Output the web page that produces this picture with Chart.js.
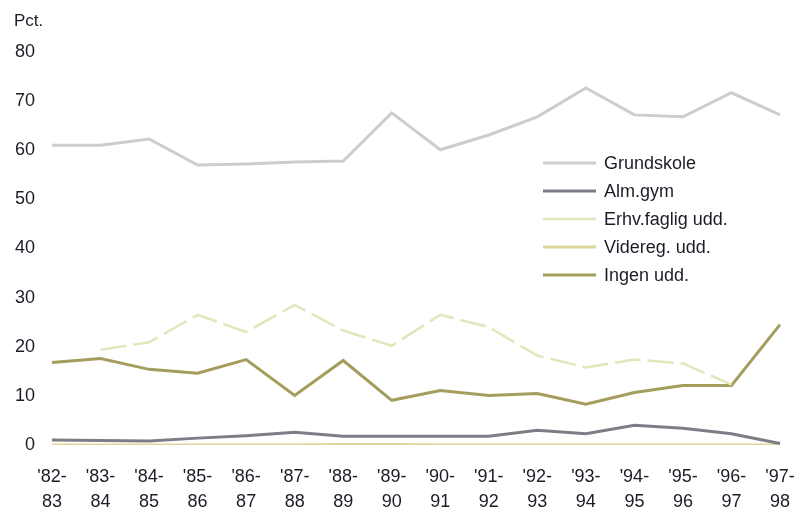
<!DOCTYPE html>
<html lang="da">
  <head>
    <meta charset="UTF-8" />
    <title>Pct.</title>
    <style>
      body {
        margin: 0;
        background: #fff;
      }
      .chart_frame {
        width: 797px;
        height: 511px;
      }
    </style>
  </head>
  <body>
    <div class="chart_frame">
      <canvas id="myChart" width="797" height="511"></canvas>
    </div>
  </body>
  <script src="https://cdn.jsdelivr.net/npm/chart.js"></script>

  <script>
    const years = [
      ["'82-", "83"], ["'83-", "84"], ["'84-", "85"], ["'85-", "86"],
      ["'86-", "87"], ["'87-", "88"], ["'88-", "89"], ["'89-", "90"],
      ["'90-", "91"], ["'91-", "92"], ["'92-", "93"], ["'93-", "94"],
      ["'94-", "95"], ["'95-", "96"], ["'96-", "97"], ["'97-", "98"],
    ];

    const seriesNames = ["Grundskole", "Alm.gym", "Erhv.faglig udd.", "Videreg. udd.", "Ingen udd."];

    const grundskole = [61, 61, 62.3, 57, 57.2, 57.6, 57.8, 67.6, 60.1, 63.1, 66.8, 72.7, 67.2, 66.8, 71.7, 67.2];
    const almGym = [1.0, 0.9, 0.8, 1.4, 1.9, 2.6, 1.8, 1.8, 1.8, 1.8, 3.0, 2.3, 4.0, 3.4, 2.3, 0.3];
    const erhvFaglig = [null, 19.4, 20.9, 26.5, 23, 28.5, 23.3, 20.2, 26.5, 24, 18.2, 15.8, 17.4, 16.6, 12.3, null];
    const videreg = [0, 0, 0, 0, 0, 0, 0.1, 0.1, 0, 0, 0, 0, 0, 0, 0, 0];
    const ingen = [16.8, 17.6, 15.4, 14.6, 17.4, 10.1, 17.2, 9.1, 11.1, 10.1, 10.5, 8.3, 10.7, 12.1, 12.1, 24.5];

    const yTicks = [0, 10, 20, 30, 40, 50, 60, 70, 80];

    const colors = ["#cdcdcd", "#7d7d85", "#e3e6bb", "#ddd59c", "#a49d5e"];
    const widths = [3, 3, 2.5, 3, 3];

    const FONT = "'Liberation Sans', Arial, sans-serif";

    // legend drawn by hand, to the right of the middle
    const legendPlugin = {
      id: "sideLegend",
      afterDraw(chart) {
        const ctx = chart.ctx;
        ctx.save();
        ctx.font = "18px " + FONT;
        ctx.textBaseline = "middle";
        chart.data.datasets.forEach((ds, i) => {
          const y = 163 + i * 28;
          ctx.strokeStyle = ds.borderColor;
          ctx.lineWidth = ds.borderWidth;
          ctx.beginPath();
          ctx.moveTo(543, y);
          ctx.lineTo(596, y);
          ctx.stroke();
          ctx.fillStyle = "#1c1c28";
          ctx.fillText(ds.label, 604, y + 1);
        });
        ctx.font = "17px " + FONT;
        ctx.fillText("Pct.", 14, 21);
        ctx.restore();
      },
    };

    function draw() {
      const series = [grundskole, almGym, erhvFaglig, videreg, ingen];
      const ctx = document.getElementById("myChart");
      const line_chart = {
        type: "line",
        data: {
          labels: years,
          datasets: series.map((values, i) => ({
            label: seriesNames[i],
            data: values,
            borderColor: colors[i],
            borderWidth: widths[i],
            borderDash: i == 2 ? [26, 7] : [],
            pointRadius: 0,
            tension: 0,
            spanGaps: false,
          })),
        },
        options: {
          responsive: false,
          animation: false,
          layout: {
            padding: { top: 52, left: 15, right: 0, bottom: 0 },
          },
          plugins: {
            legend: { display: false },
            tooltip: { enabled: false },
          },
          scales: {
            x: {
              offset: false,
              afterFit: (axis) => {
                axis.height = 66;
                axis.paddingLeft = 0;
                axis.paddingRight = 17;
              },
              grid: { display: false, drawTicks: false, tickLength: 0 },
              border: { display: false },
              ticks: {
                maxRotation: 0,
                autoSkip: false,
                padding: 19,
                color: "#1c1c28",
                font: { size: 18, family: FONT, lineHeight: 1.4 },
              },
            },
            y: {
              min: 0,
              max: 80,
              afterBuildTicks: (axis) => {
                axis.ticks = yTicks.map((v) => ({ value: v }));
              },
              afterFit: (axis) => {
                axis.width = 37;
              },
              grid: { display: false, drawTicks: false, tickLength: 0 },
              border: { display: false },
              ticks: {
                padding: 17,
                color: "#1c1c28",
                font: { size: 18, family: FONT },
              },
            },
          },
        },
        plugins: [legendPlugin],
      };
      new Chart(ctx, line_chart);
    }

    draw();
  </script>
</html>
